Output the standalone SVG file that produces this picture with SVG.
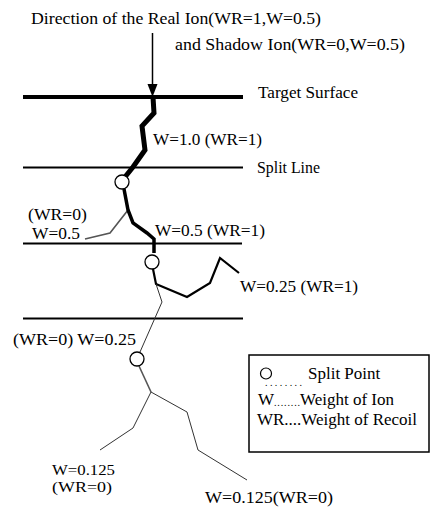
<svg xmlns="http://www.w3.org/2000/svg" width="432" height="509" viewBox="0 0 432 509">
<style>
text{font-family:"Liberation Serif","Times New Roman",serif;font-size:17px;fill:#000}
.sm{font-size:14.5px}
.ln{stroke:#000;fill:none}
.real{stroke:#000;fill:none;stroke-width:2.2;stroke-linejoin:miter}
.shadow{stroke:#555;fill:none;stroke-width:1.6}
.thin{stroke:#333;fill:none;stroke-width:1}
.sp{fill:#fff;stroke:#000;stroke-width:1.3}
.dots{font-size:10px}
</style>
<g id="labels-top">
<text x="31" y="24" textLength="290" lengthAdjust="spacingAndGlyphs">Direction of the Real Ion(WR=1,W=0.5)</text>
<text x="175" y="50" textLength="230" lengthAdjust="spacingAndGlyphs">and  Shadow Ion(WR=0,W=0.5)</text>
</g>
<g id="surfaces">
<line class="ln" x1="23" y1="97" x2="243" y2="97" stroke-width="4"/>
<text x="258" y="98" textLength="100" lengthAdjust="spacingAndGlyphs">Target Surface</text>
<line class="ln" x1="23" y1="167.5" x2="243" y2="167.5" stroke-width="2"/>
<text x="257" y="173" textLength="63" lengthAdjust="spacingAndGlyphs">Split Line</text>
<line class="ln" x1="23" y1="243.5" x2="242" y2="243.5" stroke-width="2"/>
<line class="ln" x1="23" y1="318.5" x2="243" y2="318.5" stroke-width="2"/>
</g>
<g id="connectors">
<line class="ln" x1="152.5" y1="33" x2="152.5" y2="85" stroke-width="1.5"/>
<polygon points="147.5,84 157.5,84 152.5,97" fill="#000"/>
<path d="M153,97 L154,113 L142,126 L145,150 L133,167 L125,177" stroke="#000" stroke-width="5" fill="none"/>
<path class="shadow" d="M124,189 L128,210 L110,233 L85,239"/>
<path d="M124,189 L128,210 L133,223 L147,233 L154,239 L154,253" stroke="#000" stroke-width="3.5" fill="none"/>
<path class="real" d="M153,269 L156,284 L187,297 L210,283 L220,258 L239,273"/>
<path class="thin" d="M156,284 L162,302 L140,352"/>
<path class="shadow" d="M139,366 L151,392"/>
<path class="thin" d="M151,392 L133,428 L100,450"/>
<path class="thin" d="M151,392 L187,412 L198,450 L247,480"/>
</g>
<g id="split1"><circle class="sp" cx="122" cy="182" r="7"/></g>
<g id="split2"><circle class="sp" cx="152" cy="262" r="7"/></g>
<g id="split3"><circle class="sp" cx="137" cy="359" r="7"/></g>
<g id="labels">
<text x="153" y="145" textLength="109" lengthAdjust="spacingAndGlyphs">W=1.0 (WR=1)</text>
<text x="28" y="220" textLength="59" lengthAdjust="spacingAndGlyphs">(WR=0)</text>
<text x="32" y="239" textLength="48" lengthAdjust="spacingAndGlyphs">W=0.5</text>
<text x="155" y="236" textLength="110" lengthAdjust="spacingAndGlyphs">W=0.5 (WR=1)</text>
<text x="240" y="292" textLength="118" lengthAdjust="spacingAndGlyphs">W=0.25 (WR=1)</text>
<text x="13" y="345" textLength="123" lengthAdjust="spacingAndGlyphs">(WR=0)  W=0.25</text>
<text class="sm" x="52" y="475" textLength="63" lengthAdjust="spacingAndGlyphs">W=0.125</text>
<text class="sm" x="52" y="492" textLength="60" lengthAdjust="spacingAndGlyphs">(WR=0)</text>
<text x="205" y="503" textLength="128" lengthAdjust="spacingAndGlyphs">W=0.125(WR=0)</text>
</g>
<g id="legend">
<rect x="249" y="355" width="180" height="97" fill="#fff" stroke="#000" stroke-width="1.5"/>
<circle cx="266" cy="373.5" r="5.5" fill="#fff" stroke="#000" stroke-width="1.2"/>
<text class="dots" x="265" y="386" textLength="37" lengthAdjust="spacing">........</text>
<text x="308" y="379">Split Point</text>
<text x="258" y="405">W</text>
<text class="dots" x="274" y="406" textLength="26" lengthAdjust="spacing">........</text>
<text x="300" y="405">Weight of Ion</text>
<text x="257" y="425" textLength="160" lengthAdjust="spacingAndGlyphs">WR....Weight of Recoil</text>
</g>
</svg>
